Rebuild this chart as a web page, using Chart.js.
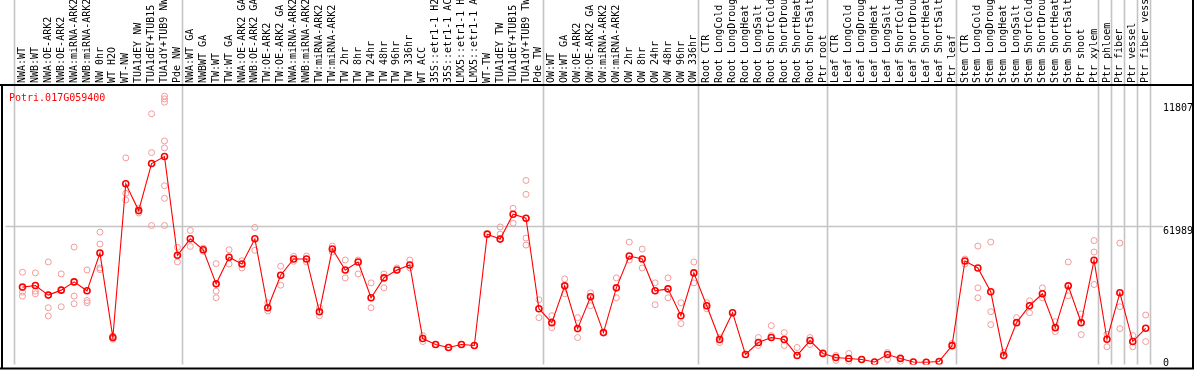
<!DOCTYPE html>
<html>
<head>
<meta charset="utf-8">
<script src="https://cdn.jsdelivr.net/npm/chart.js@4.4.1/dist/chart.umd.min.js"></script>
<style>
  body { margin: 0; background: #fff; }
</style>
</head>
<body>
<canvas id="chart" width="1194" height="370"></canvas>
<script>
const geneName = "Potri.017G059400";

const samples = [
    "NWA:WT", "NWB:WT", "NWA:OE-ARK2", "NWB:OE-ARK2", "NWA:miRNA-ARK2", "NWB:miRNA-ARK2",
    "NW 0hr", "WT H2O", "WT-NW", "TUA1dEY NW", "TUA1dEY+TUB15 NW", "TUA1dY+TUB9 NW", "Pde NW",
    "NWA:WT GA", "NWBWT GA", "TW:WT", "TW:WT GA", "NWA:OE-ARK2 GA", "NWB:OE-ARK2 GA",
    "TW:OE-ARK2", "TW:OE-ARK2 GA", "NWA:miRNA-ARK2 GA", "NWB:miRNA-ARK2 GA", "TW:miRNA-ARK2",
    "TW:miRNA-ARK2 GA", "TW 2hr", "TW 8hr", "TW 24hr", "TW 48hr", "TW 96hr", "TW 336hr",
    "WT ACC", "35S::etr1-1 H2O", "35S::etr1-1 ACC", "LMX5::etr1-1 H2O", "LMX5::etr1-1 ACC",
    "WT-TW", "TUA1dEY TW", "TUA1dEY+TUB15 TW", "TUA1dY+TUB9 TW", "Pde TW",
    "OW:WT", "OW:WT GA", "OW:OE-ARK2", "OW:OE-ARK2 GA", "OW:miRNA-ARK2", "OW:miRNA-ARK2 GA",
    "OW 2hr", "OW 8hr", "OW 24hr", "OW 48hr", "OW 96hr", "OW 336hr",
    "Root CTR", "Root LongCold", "Root LongDrought", "Root LongHeat", "Root LongSalt",
    "Root ShortCold", "Root ShortDrought", "Root ShortHeat", "Root ShortSalt", "Ptr root",
    "Leaf CTR", "Leaf LongCold", "Leaf LongDrought", "Leaf LongHeat", "Leaf LongSalt",
    "Leaf ShortCold", "Leaf ShortDrought", "Leaf ShortHeat", "Leaf ShortSalt", "Ptr leaf",
    "Stem CTR", "Stem LongCold", "Stem LongDrought", "Stem LongHeat", "Stem LongSalt",
    "Stem ShortCold", "Stem ShortDrought", "Stem ShortHeat", "Stem ShortSalt", "Ptr shoot",
    "Ptr xylem", "Ptr phloem", "Ptr fiber", "Ptr vessel", "Ptr fiber vessel"
];

// mean expression per sample
const means = [
    34200, 34900, 30570, 32820, 36570, 32510, 49660, 11290, 81130, 68940,
    90300, 93460, 48630, 56120, 51150, 35670, 47720, 44700, 56120, 24830,
    39600, 46960, 46960, 23030, 51470, 41990, 45600, 29350, 38380, 41990,
    44250, 10840, 8130, 6770, 8130, 7680, 58240, 55990, 67270, 65470,
    24380, 18060, 34770, 15350, 29800, 13550, 33860, 48310, 46960, 32510,
    33410, 21220, 40640, 25740, 10380, 22580, 3610, 9030, 11290, 10380,
    3160, 9930, 4060, 2240, 1790, 1350, 200, 3590, 1790, 200,
    100, 450, 7620, 46050, 42890, 32060, 3160, 18060, 25740, 31150,
    15800, 34770, 18060, 46370, 10520, 31600, 9480, 15490
];

// individual replicates per sample
const replicates = [
    [40950, 31920, 30100], [40640, 32370, 31150], [45600, 24830, 21090], [40180, 33000, 25280],
    [52370, 30120, 26640], [41990, 28130, 27090], [59150, 53730, 42890, 42120], [12060, 10520, 11290],
    [92870, 76760, 73730], [69980, 67860], [112880, 95270, 62170],
    [120870, 119650, 118160, 100550, 97390, 80230, 74500, 62170], [52240, 45600],
    [59910, 52690], [51920, 50430], [44830, 32370, 29350], [51150, 44700], [46190, 42890],
    [61270, 50880], [27090, 23340], [43660, 35080], [48170, 45920],
    [48310, 45600], [24830, 21220], [52830, 50120], [46500, 38380], [46500, 40180],
    [36120, 24830], [40180, 33860], [42890], [46500, 42890], [12190, 9480], [8130],
    [6770], [8130], [7680], [58240], [61510, 58240], [69980, 63210],
    [82620, 76300, 65470, 56440, 53280], [28440, 20320],
    [21220, 15800], [37930, 31150], [20320, 11290], [31600, 25740], [13550], [38380, 29350],
    [54640, 46500], [51470, 42890], [36120, 26190], [38380, 29350], [27090, 17610], [45600, 36120],
    [27090, 24380], [11290, 9030], [22580], [3610], [11290, 7680], [16710, 12190],
    [13550, 7680], [6770], [11290, 8130], [4510],
    [3160, 900], [4060, 450], [1350], [200], [4510, 1350], [2260, 450], [200], [100], [450], [8580],
    [46960, 44700], [52830, 33860, 29350], [54640, 23030, 17160], [4510], [20320],
    [27990, 22580], [33860, 29350], [18510, 13990], [45600, 30250], [18060, 12640, 22000],
    [55340, 50120, 35370], [12780, 7110], [54190, 25280, 15350], [12190, 7110], [21520, 9480]
];

// a grey separator is drawn after each of these sample indices
const groupEnds = [-1, 12, 40, 52, 62, 72, 83, 84, 85, 86, 87];

const yTickValues = [0, 61989, 118075];

const FONT = '10px "DejaVu Sans Mono", monospace';

const frame = {
    id: "frame",
    beforeDatasetsDraw(chart) {
        const { ctx, chartArea, scales: { x, y } } = chart;
        ctx.save();
        ctx.strokeStyle = "#c4c4c4";
        ctx.lineWidth = 1.6;
        groupEnds.forEach(i => {
            const px = Math.floor(x.getPixelForValue(i + 0.38)) + 0.5;
            ctx.beginPath();
            ctx.moveTo(px, 0);
            ctx.lineTo(px, chartArea.bottom);
            ctx.stroke();
        });
        const gy = Math.round(y.getPixelForValue(yTickValues[1])) + 0.5;
        ctx.beginPath();
        ctx.moveTo(chartArea.left, gy);
        ctx.lineTo(1163, gy);
        ctx.stroke();
        ctx.restore();
    },
    afterDraw(chart) {
        const { ctx, scales: { x, y } } = chart;
        ctx.save();
        ctx.font = FONT;
        ctx.fillStyle = "#000";

        // sample names, rotated
        samples.forEach((name, i) => {
            ctx.save();
            ctx.translate(x.getPixelForValue(i), 83);
            ctx.rotate(-Math.PI / 2);
            ctx.textAlign = "left";
            ctx.textBaseline = "middle";
            ctx.fillText(name, 0, 0);
            ctx.restore();
        });

        // value labels on the right
        ctx.textAlign = "left";
        ctx.textBaseline = "alphabetic";
        yTickValues.forEach(v => {
            const ty = Math.min(y.getPixelForValue(v) + 8.5, 366);
            ctx.fillText(String(v), 1163, ty);
        });

        ctx.fillStyle = "#ff0000";
        ctx.fillText(geneName, 9, 100.5);

        // frame
        ctx.strokeStyle = "#000";
        ctx.lineWidth = 2;
        ctx.beginPath();
        ctx.moveTo(0, 85); ctx.lineTo(1194, 85);
        ctx.moveTo(2, 85); ctx.lineTo(2, 369);
        ctx.moveTo(1193, 0); ctx.lineTo(1193, 369);
        ctx.moveTo(0, 368.5); ctx.lineTo(1194, 368.5);
        ctx.stroke();
        ctx.restore();
    }
};

const meanPoints = means.map((v, i) => ({ x: i, y: v }));
const repPoints = [];
replicates.forEach((reps, i) => reps.forEach(v => repPoints.push({ x: i, y: v })));

new Chart(document.getElementById("chart"), {
    type: "line",
    data: {
        datasets: [
            {
                label: geneName,
                data: meanPoints,
                borderColor: "#ff0000",
                borderWidth: 1.1,
                pointRadius: 3,
                pointBorderWidth: 1.6,
                pointBorderColor: "#ff0000",
                pointBackgroundColor: "rgba(0,0,0,0)",
                tension: 0
            },
            {
                type: "scatter",
                label: "replicates",
                data: repPoints,
                showLine: false,
                pointRadius: 3,
                pointBorderWidth: 1,
                pointBorderColor: "#f39a9a",
                pointBackgroundColor: "rgba(0,0,0,0)"
            }
        ]
    },
    options: {
        responsive: false,
        animation: false,
        events: [],
        layout: { padding: { top: 86, left: 2, right: 1, bottom: 2 } },
        plugins: { legend: { display: false }, tooltip: { enabled: false } },
        scales: {
            x: { type: "linear", display: false, min: -1.3077, max: 90.3077 },
            y: { display: false, min: -896, max: 125500 }
        }
    },
    plugins: [frame]
});
</script>
</body>
</html>
